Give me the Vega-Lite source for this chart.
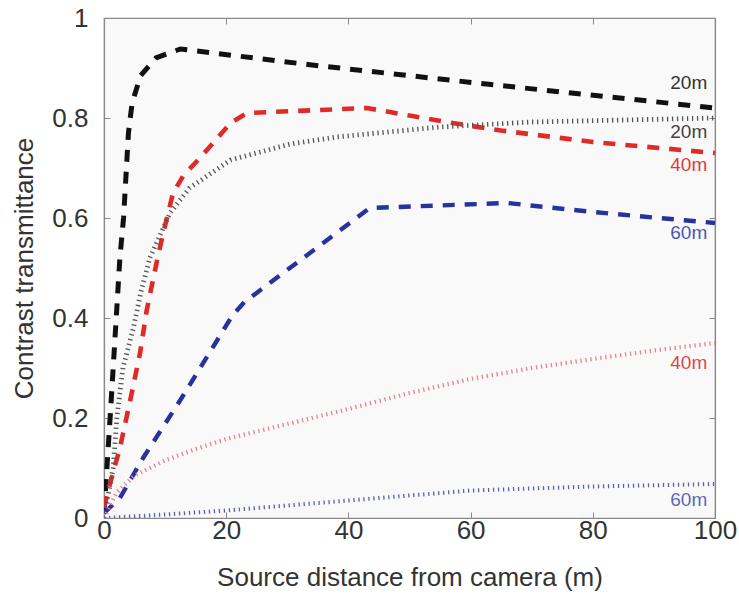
{
  "$schema": "https://vega.github.io/schema/vega-lite/v6.json",
  "autosize": "none",
  "width": 611,
  "height": 500,
  "padding": {"left": 104, "top": 18, "right": 24, "bottom": 81},
  "background": "white",
  "config": {
    "view": {"fill": "#f9f9f9", "stroke": "#8a8a8a", "strokeWidth": 1.2},
    "font": "Liberation Sans",
    "axis": {
      "grid": false,
      "labelFlush": false,
      "domainColor": "#8a8a8a",
      "domainWidth": 1.2,
      "tickColor": "#8a8a8a",
      "labelFont": "Liberation Sans",
      "titleFont": "Liberation Sans",
      "labelFontSize": 26,
      "titleFontSize": 26,
      "labelColor": "#333333",
      "titleColor": "#333333",
      "titleFontWeight": "normal"
    }
  },
  "datasets": {
    "lines": [
      {"series": "k20", "x": 0, "y": 0.01},
      {"series": "k20", "x": 1, "y": 0.2},
      {"series": "k20", "x": 2.6, "y": 0.52},
      {"series": "k20", "x": 3.2, "y": 0.6},
      {"series": "k20", "x": 4, "y": 0.77},
      {"series": "k20", "x": 4.6, "y": 0.83},
      {"series": "k20", "x": 6, "y": 0.885},
      {"series": "k20", "x": 8.5, "y": 0.92},
      {"series": "k20", "x": 12.5, "y": 0.938},
      {"series": "k20", "x": 34, "y": 0.906},
      {"series": "k20", "x": 64, "y": 0.866},
      {"series": "k20", "x": 100, "y": 0.82},

      {"series": "r40", "x": 0, "y": 0.02},
      {"series": "r40", "x": 0.7, "y": 0.056},
      {"series": "r40", "x": 2.6, "y": 0.14},
      {"series": "r40", "x": 4.3, "y": 0.236},
      {"series": "r40", "x": 5.9, "y": 0.33},
      {"series": "r40", "x": 7, "y": 0.416},
      {"series": "r40", "x": 8.7, "y": 0.516},
      {"series": "r40", "x": 9.7, "y": 0.57},
      {"series": "r40", "x": 11.3, "y": 0.65},
      {"series": "r40", "x": 13, "y": 0.685},
      {"series": "r40", "x": 15.7, "y": 0.72},
      {"series": "r40", "x": 20.7, "y": 0.79},
      {"series": "r40", "x": 23.4, "y": 0.81},
      {"series": "r40", "x": 43, "y": 0.82},
      {"series": "r40", "x": 50, "y": 0.805},
      {"series": "r40", "x": 57, "y": 0.79},
      {"series": "r40", "x": 65, "y": 0.775},
      {"series": "r40", "x": 80, "y": 0.752},
      {"series": "r40", "x": 100, "y": 0.73},

      {"series": "g20", "x": 0, "y": 0},
      {"series": "g20", "x": 1.5, "y": 0.1},
      {"series": "g20", "x": 2.1, "y": 0.2},
      {"series": "g20", "x": 3.1, "y": 0.3},
      {"series": "g20", "x": 4.8, "y": 0.38},
      {"series": "g20", "x": 6, "y": 0.45},
      {"series": "g20", "x": 7.5, "y": 0.52},
      {"series": "g20", "x": 10.8, "y": 0.61},
      {"series": "g20", "x": 14, "y": 0.66},
      {"series": "g20", "x": 20.7, "y": 0.716},
      {"series": "g20", "x": 30.5, "y": 0.748},
      {"series": "g20", "x": 38, "y": 0.762},
      {"series": "g20", "x": 55, "y": 0.782},
      {"series": "g20", "x": 70, "y": 0.792},
      {"series": "g20", "x": 100, "y": 0.8},

      {"series": "b60", "x": 0, "y": 0.01},
      {"series": "b60", "x": 2.6, "y": 0.04},
      {"series": "b60", "x": 6.4, "y": 0.12},
      {"series": "b60", "x": 12.5, "y": 0.236},
      {"series": "b60", "x": 18.5, "y": 0.355},
      {"series": "b60", "x": 21, "y": 0.405},
      {"series": "b60", "x": 23, "y": 0.432},
      {"series": "b60", "x": 43.5, "y": 0.62},
      {"series": "b60", "x": 66, "y": 0.63},
      {"series": "b60", "x": 80, "y": 0.612},
      {"series": "b60", "x": 100, "y": 0.59},

      {"series": "r40d", "x": 0, "y": 0},
      {"series": "r40d", "x": 2, "y": 0.05},
      {"series": "r40d", "x": 5, "y": 0.085},
      {"series": "r40d", "x": 10, "y": 0.115},
      {"series": "r40d", "x": 15, "y": 0.138},
      {"series": "r40d", "x": 20, "y": 0.158},
      {"series": "r40d", "x": 30, "y": 0.188},
      {"series": "r40d", "x": 40, "y": 0.218},
      {"series": "r40d", "x": 50, "y": 0.25},
      {"series": "r40d", "x": 60, "y": 0.278},
      {"series": "r40d", "x": 70, "y": 0.3},
      {"series": "r40d", "x": 80, "y": 0.318},
      {"series": "r40d", "x": 90, "y": 0.335},
      {"series": "r40d", "x": 100, "y": 0.35},

      {"series": "b60d", "x": 0, "y": 0},
      {"series": "b60d", "x": 10, "y": 0.007},
      {"series": "b60d", "x": 20, "y": 0.015},
      {"series": "b60d", "x": 40, "y": 0.035},
      {"series": "b60d", "x": 60, "y": 0.055},
      {"series": "b60d", "x": 80, "y": 0.063},
      {"series": "b60d", "x": 100, "y": 0.068}
    ],
    "labels": [
      {"series": "k20", "text": "20m", "x": 95.7, "y": 0.87},
      {"series": "g20", "text": "20m", "x": 95.7, "y": 0.772},
      {"series": "r40", "text": "40m", "x": 95.7, "y": 0.706},
      {"series": "b60", "text": "60m", "x": 95.7, "y": 0.57},
      {"series": "r40d", "text": "40m", "x": 95.7, "y": 0.31},
      {"series": "b60d", "text": "60m", "x": 95.7, "y": 0.036}
    ]
  },
  "resolve": {"axis": {"x": "independent", "y": "independent"}, "scale": {"color": "independent"}},
  "layer": [
    {
      "data": {"name": "lines"},
      "mark": {"type": "line", "strokeCap": "butt", "clip": true},
      "encoding": {
        "x": {
          "field": "x", "type": "quantitative",
          "scale": {"domain": [0, 100], "nice": false},
          "axis": {"orient": "bottom", "values": [0, 20, 40, 60, 80, 100], "format": "d", "tickSize": -6, "labelPadding": 5, "labelFlush": false, "title": "Source distance from camera (m)", "titlePadding": 21}
        },
        "y": {
          "field": "y", "type": "quantitative",
          "scale": {"domain": [0, 1], "nice": false},
          "axis": {"orient": "left", "values": [0, 0.2, 0.4, 0.6, 0.8, 1], "format": "~g", "tickSize": -6, "labelPadding": 22, "labelFlush": false, "title": "Contrast transmittance", "titlePadding": 14}
        },
        "color": {
          "field": "series", "type": "nominal", "legend": null,
          "scale": {"domain": ["k20", "g20", "r40", "b60", "r40d", "b60d"], "range": ["#111111", "#555555", "#e02a28", "#27329c", "#e5838a", "#5a5fb0"]}
        },
        "strokeDash": {
          "field": "series", "type": "nominal", "legend": null,
          "scale": {"domain": ["k20", "g20", "r40", "b60", "r40d", "b60d"], "range": [[12, 10], [1.3, 3.7], [12, 10], [12, 10], [1.3, 3.7], [1.3, 3.7]]}
        },
        "strokeWidth": {
          "field": "series", "type": "nominal", "legend": null,
          "scale": {"domain": ["k20", "g20", "r40", "b60", "r40d", "b60d"], "range": [5, 4, 5, 5, 4, 4]}
        }
      }
    },
    {
      "data": {"name": "labels"},
      "mark": {"type": "text", "fontSize": 19, "align": "center", "baseline": "middle", "font": "Liberation Sans"},
      "encoding": {
        "x": {
          "field": "x", "type": "quantitative",
          "scale": {"domain": [0, 100], "nice": false},
          "axis": {"orient": "top", "values": [0, 20, 40, 60, 80, 100], "tickSize": -6, "labels": false, "title": null}
        },
        "y": {
          "field": "y", "type": "quantitative",
          "scale": {"domain": [0, 1], "nice": false},
          "axis": {"orient": "right", "values": [0, 0.2, 0.4, 0.6, 0.8, 1], "tickSize": -6, "labels": false, "title": null}
        },
        "text": {"field": "text"},
        "color": {
          "field": "series", "type": "nominal", "legend": null,
          "scale": {"domain": ["k20", "g20", "r40", "b60", "r40d", "b60d"], "range": ["#333333", "#444444", "#e03a3a", "#4a58b0", "#e04848", "#5a6ab8"]}
        }
      }
    }
  ]
}
